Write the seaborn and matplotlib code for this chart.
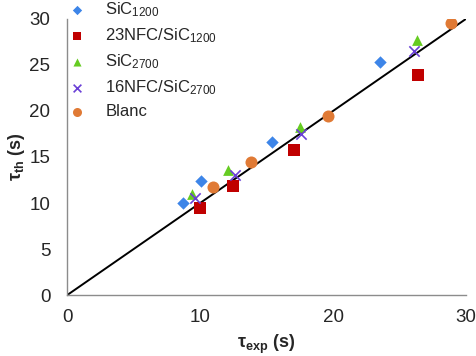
#!/usr/bin/env python3
import matplotlib
matplotlib.use('Agg')
import matplotlib.pyplot as plt
import seaborn as sns

sic1200_x = [8.7, 10.1, 15.4, 23.5]
sic1200_y = [10.0, 12.4, 16.6, 25.3]
nfc23_x = [10.0, 12.5, 17.1, 26.4]
nfc23_y = [9.5, 11.8, 15.8, 23.9]
sic2700_x = [9.4, 12.1, 17.5, 26.3]
sic2700_y = [11.0, 13.6, 18.3, 27.7]
nfc16_x = [9.6, 12.6, 17.6, 26.1]
nfc16_y = [10.5, 13.0, 17.5, 26.5]
blanc_x = [11.0, 13.8, 19.6, 28.9]
blanc_y = [11.7, 14.5, 19.5, 29.6]

names = ['SiC$_{1200}$', '23NFC/SiC$_{1200}$', 'SiC$_{2700}$',
         '16NFC/SiC$_{2700}$', 'Blanc']
xs = [sic1200_x, nfc23_x, sic2700_x, nfc16_x, blanc_x]
ys = [sic1200_y, nfc23_y, sic2700_y, nfc16_y, blanc_y]
colors = ['#3d85e8', '#c00000', '#66cc22', '#6a3fd6', '#e07a35']
markers = ['D', 's', '^', 'x', 'o']
sizes = [40, 65, 60, 55, 75]

sns.set_style('white')
plt.rcParams['font.family'] = ['Liberation Sans', 'DejaVu Sans']
plt.rcParams['mathtext.default'] = 'regular'

fig = plt.figure(figsize=(4.76, 3.56), dpi=100)
ax = fig.add_axes([0.141, 0.171, 0.838, 0.776])

ax.axline((0, 0), slope=1, color='black', lw=1.4, zorder=1)
for name, xv, yv, c, m, s in zip(names, xs, ys, colors, markers, sizes):
    if m == 'x':
        sns.scatterplot(x=xv, y=yv, marker=m, s=s, color=c, linewidth=1.2,
                        label=name, ax=ax, zorder=3)
    else:
        sns.scatterplot(x=xv, y=yv, marker=m, s=s, color=c, linewidth=0,
                        label=name, ax=ax, zorder=3)

ax.set_xlim(0, 30)
ax.set_ylim(0, 30)
ax.set_xticks([0, 10, 20, 30])
ax.set_yticks([0, 5, 10, 15, 20, 25, 30])
ax.tick_params(length=0, labelsize=13.5)
ax.tick_params(axis='x', pad=10)
ax.tick_params(axis='y', pad=12)
for side in ['top', 'right']:
    ax.spines[side].set_visible(False)
for side in ['left', 'bottom']:
    ax.spines[side].set_color('#8c8c8c')
    ax.spines[side].set_linewidth(1.0)

ax.set_xlabel('τ$_{exp}$ (s)', fontsize=13, fontweight='bold', labelpad=5)
ax.set_ylabel('τ$_{th}$ (s)', fontsize=13, fontweight='bold', labelpad=2)

leg = ax.legend(loc='upper left', bbox_to_anchor=(0.134, 1.018),
                bbox_transform=fig.transFigure, frameon=False, fontsize=12,
                markerscale=0.75, handlelength=0.8, handletextpad=1.3,
                labelspacing=0.44, borderaxespad=0)
leg.set_zorder(5)

fig.savefig('out.png', dpi=100)
